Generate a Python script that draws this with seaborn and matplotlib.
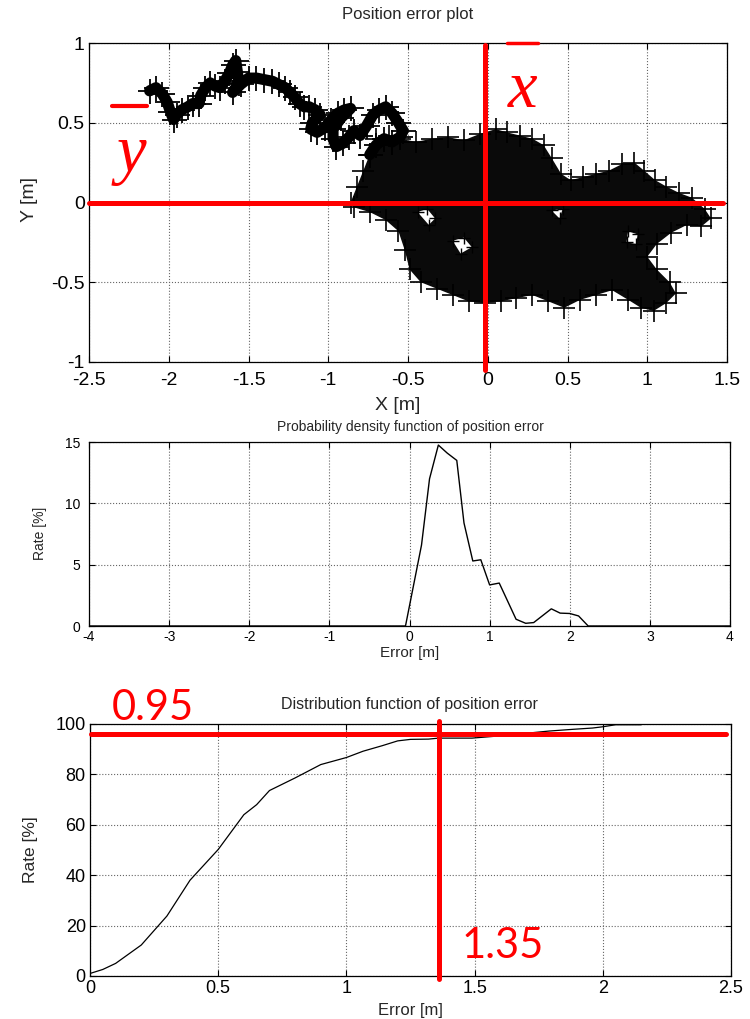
import matplotlib
matplotlib.use("Agg")
import matplotlib.pyplot as plt
from matplotlib.lines import Line2D
from matplotlib.ticker import FuncFormatter
import seaborn as sns

# --- top panel: trajectory ---
TRAIL_X = [-2.12, -2.08, -2.04, -2.01, -1.99, -1.97, -1.95, -1.92, -1.88, -1.85,
           -1.81, -1.80, -1.77, -1.74, -1.71, -1.68, -1.65, -1.62, -1.60, -1.58,
           -1.57, -1.56, -1.60, -1.55, -1.50, -1.45, -1.40, -1.35, -1.31, -1.27,
           -1.24, -1.21, -1.18, -1.15, -1.12, -1.08, -1.05, -1.10, -1.11, -1.07,
           -1.02, -0.98, -0.94, -0.90, -0.86, -0.92, -0.97, -0.97, -0.95, -0.91,
           -0.87, -0.84, -0.80, -0.76, -0.72, -0.68, -0.64, -0.60, -0.56, -0.53,
           -0.55, -0.60, -0.65, -0.70, -0.74]
TRAIL_Y = [0.70, 0.72, 0.68, 0.63, 0.57, 0.52, 0.55, 0.58, 0.60, 0.62,
           0.62, 0.67, 0.72, 0.75, 0.73, 0.72, 0.76, 0.81, 0.86, 0.89,
           0.82, 0.75, 0.69, 0.74, 0.78, 0.78, 0.77, 0.76, 0.74, 0.72,
           0.69, 0.66, 0.62, 0.60, 0.60, 0.58, 0.55, 0.50, 0.46, 0.44,
           0.47, 0.52, 0.56, 0.58, 0.59, 0.53, 0.46, 0.40, 0.35, 0.37,
           0.41, 0.45, 0.42, 0.48, 0.55, 0.58, 0.60, 0.56, 0.50, 0.45,
           0.41, 0.38, 0.40, 0.36, 0.30]

# outline of the dense cloud of points
CLOUD_X = [-0.86, -0.82, -0.78, -0.74, -0.70, -0.62, -0.55, -0.45, -0.35, -0.25,
           -0.15, -0.05, 0.05, 0.12, 0.20, 0.28, 0.35, 0.40, 0.46, 0.52,
           0.60, 0.68, 0.76, 0.84, 0.92, 0.98, 1.05, 1.12, 1.20, 1.28,
           1.36, 1.40, 1.34, 1.25, 1.15, 1.06, 1.00, 1.06, 1.14, 1.18,
           1.12, 1.04, 0.96, 0.88, 0.78, 0.68, 0.58, 0.48, 0.38, 0.28,
           0.18, 0.08, -0.02, -0.12, -0.22, -0.32, -0.42, -0.49, -0.52, -0.56,
           -0.64, -0.74, -0.84]
CLOUD_Y = [0.00, 0.10, 0.20, 0.30, 0.40, 0.42, 0.40, 0.38, 0.40, 0.41,
           0.39, 0.43, 0.46, 0.44, 0.42, 0.40, 0.36, 0.28, 0.18, 0.14,
           0.16, 0.18, 0.20, 0.24, 0.25, 0.20, 0.14, 0.10, 0.06, 0.03,
           -0.04, -0.10, -0.15, -0.14, -0.19, -0.26, -0.34, -0.42, -0.50, -0.57,
           -0.63, -0.68, -0.66, -0.61, -0.55, -0.58, -0.61, -0.66, -0.62, -0.58,
           -0.60, -0.62, -0.63, -0.62, -0.58, -0.54, -0.50, -0.42, -0.30, -0.18,
           -0.11, -0.06, -0.03]

# small white gaps inside the cloud
HOLES_X = [[-0.44, -0.38, -0.33, -0.37],
           [-0.22, -0.15, -0.10, -0.17],
           [0.88, 0.94, 0.93, 0.87],
           [0.40, 0.47, 0.45]]
HOLES_Y = [[-0.06, -0.04, -0.10, -0.14],
           [-0.24, -0.22, -0.28, -0.32],
           [-0.18, -0.20, -0.26, -0.25],
           [-0.05, -0.04, -0.10]]

MEAN_X = -0.017
MEAN_Y = 0.0

# --- middle panel: pdf of the error ---
PDF_ERR = [-4.0, -0.05, 0.15, 0.25, 0.36, 0.47, 0.59, 0.68, 0.79, 0.89,
           1.00, 1.12, 1.33, 1.45, 1.55, 1.77, 1.88, 2.00, 2.11, 2.23, 4.0]
PDF_RATE = [0.0, 0.0, 6.6, 12.0, 14.75, 14.1, 13.5, 8.4, 5.3, 5.4,
            3.35, 3.5, 0.55, 0.22, 0.28, 1.4, 1.05, 1.02, 0.82, 0.0, 0.0]

# --- bottom panel: cumulative distribution ---
CDF_ERR = [0.00, 0.05, 0.10, 0.20, 0.30, 0.39, 0.50, 0.60, 0.65, 0.70,
           0.80, 0.90, 1.00, 1.065, 1.14, 1.20, 1.25, 1.32, 1.36, 1.49,
           1.60, 1.79, 1.885, 1.96, 2.00, 2.05, 2.15]
CDF_RATE = [1.0, 2.6, 5.0, 12.3, 23.8, 38.0, 50.2, 64.0, 68.0, 73.6,
            78.6, 83.9, 86.7, 89.2, 91.4, 93.3, 93.9, 94.0, 94.4, 94.4,
            95.3, 97.2, 97.9, 98.4, 98.9, 99.7, 99.7]

LEVEL_RATE = 96.0
LEVEL_ERR = 1.36

W, H = 750, 1019


def fx(px):
    return px / W


def fy(py):
    return 1 - py / H


def style_axes(ax, fs, xpad=3, ypad=3):
    ax.grid(True, linestyle=':', color='0.4', linewidth=0.8)
    ax.set_axisbelow(True)
    ax.tick_params(direction='in', top=True, right=True, length=4, width=0.8,
                   labelsize=fs, colors='black')
    ax.tick_params(axis='x', pad=xpad)
    ax.tick_params(axis='y', pad=ypad)
    for s in ax.spines.values():
        s.set_visible(True)
        s.set_color('black')
        s.set_linewidth(0.9)
    fmt = FuncFormatter(lambda v, p: f"{v:g}")
    ax.xaxis.set_major_formatter(fmt)
    ax.yaxis.set_major_formatter(fmt)
    ax.set_xlabel('')
    ax.set_ylabel('')


sns.set_style("ticks")
plt.rcParams['font.family'] = ['Liberation Sans', 'DejaVu Sans']

fig = plt.figure(figsize=(7.5, 10.19), dpi=100)
fig.patch.set_facecolor('white')

# ---------------- top: position error plot ----------------
ax1 = fig.add_axes([fx(89), fy(362), fx(727) - fx(89), fy(43) - fy(362)])
ax1.fill(CLOUD_X, CLOUD_Y, color='#0a0a0a', lw=0)
ax1.plot(CLOUD_X, CLOUD_Y, ls='none', marker='+', ms=16, mew=1.2, color='black')
for hx, hy in zip(HOLES_X, HOLES_Y):
    ax1.fill(hx, hy, color='white', lw=0)
    ax1.plot(hx, hy, ls='none', marker='+', ms=8, mew=1.0, color='black')
sns.lineplot(x=TRAIL_X, y=TRAIL_Y, sort=False, estimator=None, ax=ax1,
             color='black', lw=8, marker='+', ms=18, mew=1.3, mec='black')
ax1.set_xlim(-2.5, 1.5)
ax1.set_ylim(-1, 1)
ax1.set_xticks([-2.5, -2, -1.5, -1, -0.5, 0, 0.5, 1, 1.5])
ax1.set_yticks([-1, -0.5, 0, 0.5, 1])
style_axes(ax1, 14, xpad=7)
ax1.plot([-2.5, 1.475], [MEAN_Y, MEAN_Y], color='red', lw=3.6, clip_on=False, zorder=5)
ax1.plot([MEAN_X, MEAN_X], [0.99, -1.05], color='red', lw=3.6, clip_on=False, zorder=5)

fig.text(fx(408), fy(15), 'Position error plot', ha='center', va='center', fontsize=12)
fig.text(fx(398), fy(406), 'X [m]', ha='center', va='center', fontsize=14)
fig.text(fx(30), fy(200), 'Y [m]', ha='center', va='center', fontsize=14, rotation=90)

# bar symbols for the mean
fig.add_artist(Line2D([fx(507), fx(538)], [fy(43), fy(43)], color='red', lw=2.5))
fig.text(fx(523), fy(107), 'x', ha='center', va='baseline', fontsize=48, color='red',
         style='italic', family='Liberation Serif')
fig.add_artist(Line2D([fx(112), fx(147)], [fy(106), fy(106)], color='red', lw=3))
fig.text(fx(131), fy(172), 'y', ha='center', va='baseline', fontsize=48, color='red',
         style='italic', family='Liberation Serif')

# ---------------- middle: pdf ----------------
ax2 = fig.add_axes([fx(89), fy(626), fx(730) - fx(89), fy(442) - fy(626)])
sns.lineplot(x=PDF_ERR, y=PDF_RATE, sort=False, estimator=None, ax=ax2,
             color='black', lw=1.0)
ax2.set_xlim(-4, 4)
ax2.set_ylim(0, 15)
ax2.set_xticks(range(-4, 5))
ax2.set_yticks([0, 5, 10, 15])
style_axes(ax2, 10, xpad=3, ypad=6)
fig.text(fx(410), fy(427), 'Probability density function of position error',
         ha='center', va='center', fontsize=10)
fig.text(fx(410), fy(653), 'Error [m]', ha='center', va='center', fontsize=11)
fig.text(fx(40), fy(533), 'Rate [%]', ha='center', va='center', fontsize=10, rotation=90)

# ---------------- bottom: distribution function ----------------
ax3 = fig.add_axes([fx(90), fy(976), fx(731) - fx(90), fy(724) - fy(976)])
sns.lineplot(x=CDF_ERR, y=CDF_RATE, sort=False, estimator=None, ax=ax3,
             color='black', lw=0.9)
ax3.set_xlim(0, 2.5)
ax3.set_ylim(0, 100)
ax3.set_xticks([0, 0.5, 1, 1.5, 2, 2.5])
ax3.set_yticks([0, 20, 40, 60, 80, 100])
style_axes(ax3, 13)
ax3.plot([0.004, 2.48], [LEVEL_RATE, LEVEL_RATE], color='red', lw=3.6, clip_on=False, zorder=5)
ax3.plot([LEVEL_ERR, LEVEL_ERR], [101.3, -1.1], color='red', lw=3.6, clip_on=False, zorder=5)

fig.text(fx(409), fy(705), 'Distribution function of position error',
         ha='center', va='center', fontsize=11.5)
fig.text(fx(410), fy(1010), 'Error [m]', ha='center', va='center', fontsize=12)
fig.text(fx(31), fy(850), 'Rate [%]', ha='center', va='center', fontsize=12.5, rotation=90)
fig.text(fx(153), fy(720), '0.95', ha='center', va='baseline', fontsize=30,
         color='red', family='Lato')
fig.text(fx(503), fy(958), '1.35', ha='center', va='baseline', fontsize=30,
         color='red', family='Lato')

fig.savefig('out.png', dpi=100, facecolor='white')
